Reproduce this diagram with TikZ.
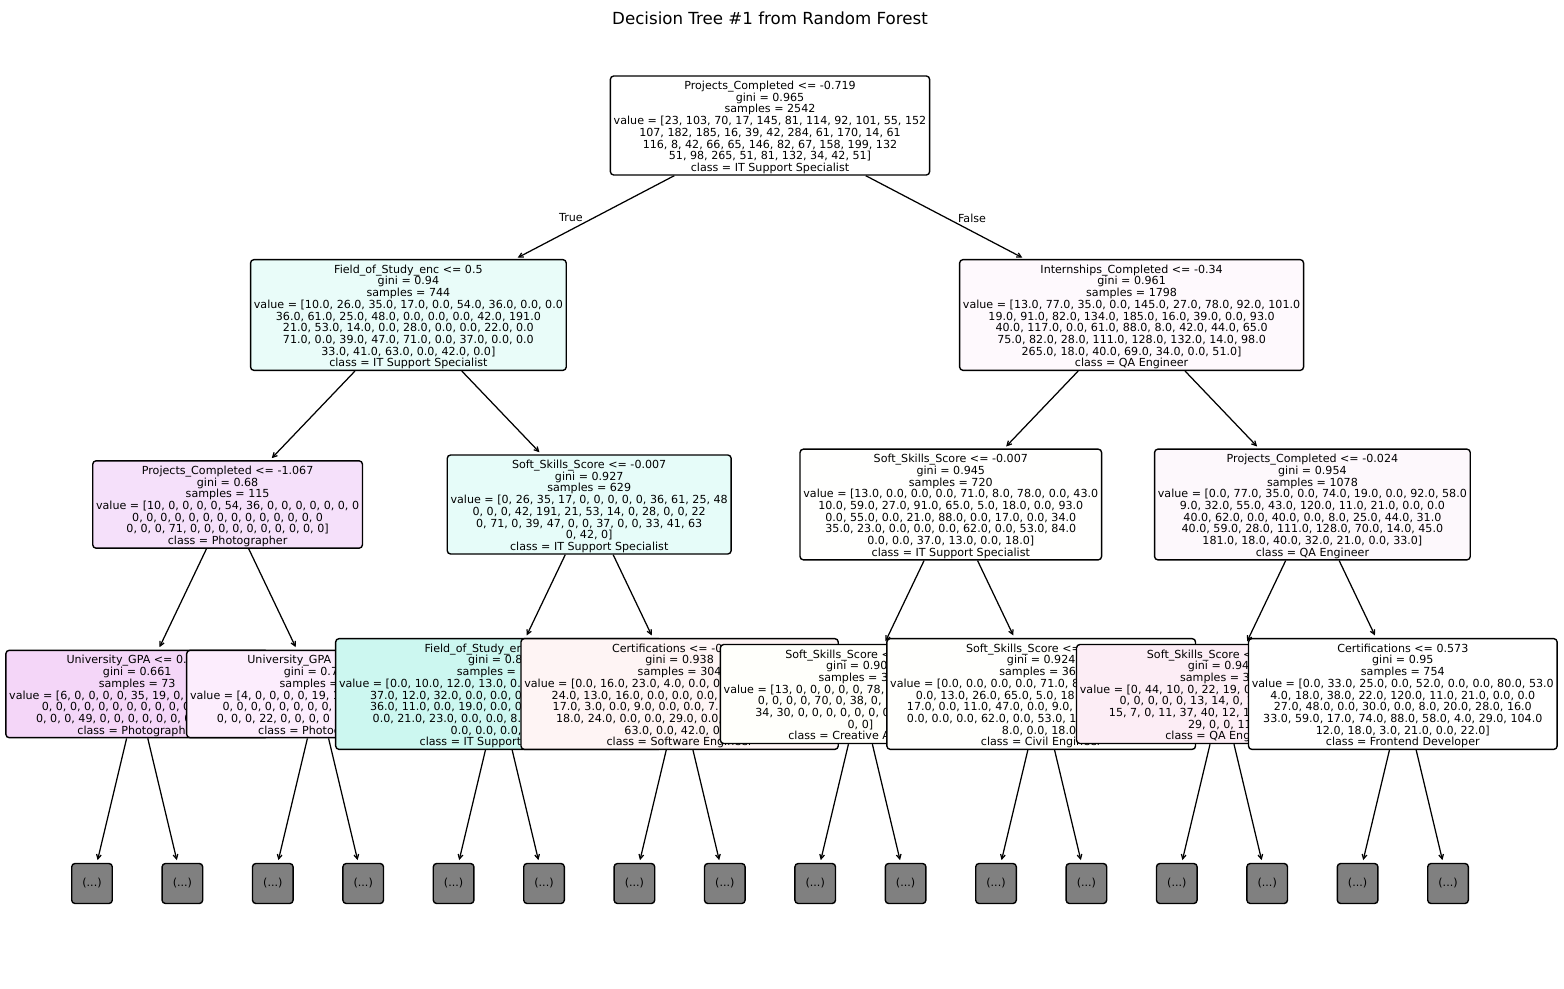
\documentclass[tikz,border=0pt]{standalone}
\usepackage{fontspec}
\setmainfont{DejaVu Sans}
\usetikzlibrary{arrows.meta}
\pgfdeclarelayer{bg}
\pgfdeclarelayer{paper}
\pgfsetlayers{paper,bg,main}
\newlength\pxu \setlength\pxu{0.7227pt}
\newcommand\cutl[2]{\makebox[#1\pxu][l]{#2}}
\newcommand\bs{\rule{0pt}{8.93pt}}
\newcommand\es{\rule[-1.67pt]{0pt}{1.67pt}}
\definecolor{cR}{RGB}{255,255,255}
\definecolor{cIa}{RGB}{233,252,249}
\definecolor{cIb}{RGB}{254,249,253}
\definecolor{cIIa}{RGB}{245,224,250}
\definecolor{cIIb}{RGB}{230,252,249}
\definecolor{cIIc}{RGB}{255,255,254}
\definecolor{cIId}{RGB}{253,248,252}
\definecolor{cA}{RGB}{244,214,248}
\definecolor{cB}{RGB}{252,237,253}
\definecolor{cC}{RGB}{204,247,240}
\definecolor{cD}{RGB}{254,244,244}
\definecolor{cE}{RGB}{255,255,251}
\definecolor{cF}{RGB}{255,255,253}
\definecolor{cG}{RGB}{252,237,245}
\definecolor{cH}{RGB}{255,255,255}
\definecolor{leafgray}{RGB}{128,128,128}
\tikzset{
  tn/.style={draw=black, line width=1pt, rounded corners=2.4pt, inner xsep=2.4pt, inner ysep=0.9pt,
    align=center, font=\fontsize{8.03}{8.45}\selectfont},
  leaf/.style={draw=black, line width=1pt, rounded corners=2.4pt, fill=leafgray, inner sep=0pt,
    minimum width=40.6\pxu, minimum height=40\pxu, font=\fontsize{8.03}{8.45}\selectfont},
  edge/.style={line width=0.9pt, -{Straight Barb[length=3.2pt,width=3.4pt]}, shorten >=2pt},
  lbl/.style={font=\fontsize{8.03}{8.45}\selectfont, inner sep=0pt}
}
\begin{document}
\begin{tikzpicture}[x=0.7227pt, y=-0.7227pt]
\begin{pgfonlayer}{paper}
\path[use as bounding box, fill=white] (0,0) rectangle (1564,989);
\end{pgfonlayer}
\node[font=\fontsize{12.04}{14}\selectfont, anchor=base, inner sep=0pt] (title) at (770,24.5) {Decision Tree \#1 from Random Forest};

% level 4 (lowest)
\foreach \i/\x in {1/92,2/182.4,3/272.8,4/363.2,5/453.6,6/544,7/634.4,8/724.8,9/815.2,10/905.6,11/996,12/1086.4,13/1176.8,14/1267.2,15/1357.6,16/1448}
  \node[leaf] (f\i) at (\x,883.5) {(...)};

% level 3 (in drawing order)
\node[tn, fill=cA] (n31) at (137.2,694) {\bs University\_GPA <= 0.\phantom{000}\\
gini = 0.661\\
samples = 73\\
value = [6, 0, 0, 0, 0, 35, 19, 0,\phantom{ 0, 0, 0, 0, 0, 0}\\
0, 0, 0, 0, 0, 0, 0, 0, 0, 0, 0\phantom{, 0, 0, 0}\\
0, 0, 0, 49, 0, 0, 0, 0, 0, 0, 0\phantom{, 0, 0, 0]}\\
class = Photographer\es};

\node[tn, fill=cB] (n32) at (318,694) {\bs University\_GPA\phantom{ <= 0.000}\\
gini = 0.7\phantom{01}\\
samples =\phantom{ 42}\\
value = [4, 0, 0, 0, 0, 19, 1\phantom{7, 0, 0, 0, 0, 0, 0, 0}\\
0, 0, 0, 0, 0, 0, 0, 0,\phantom{ 0, 0, 0, 0, 0, 0}\\
0, 0, 0, 22, 0, 0, 0, 0\phantom{, 0, 0, 0, 0, 0, 0]}\\
class = Photog\phantom{rapher}\es};

\node[tn, fill=cC] (n33) at (498.8,694) {\bs Field\_of\_Study\_enc\phantom{ <= 0.5}\\
gini = 0.8\phantom{6}\\
samples =\phantom{ 325}\\
value = [0.0, 10.0, 12.0, 13.0, 0.0\phantom{, 0.0, 0.0, 0.0, 0.0, 00.0}\\
\cutl{257.6}{37.0, 12.0, 32.0, 0.0, 0.0, 0.0}\\
\cutl{257.6}{36.0, 11.0, 0.0, 19.0, 0.0, 0.0}\\
\cutl{252.2}{0.0, 21.0, 23.0, 0.0, 0.0, 8.0}\\
0.0, 0.0, 0.0, 0\phantom{.0]}\\
class = IT Support\phantom{ Specialist}\es};

\node[tn, fill=cD] (n34) at (679.6,694) {\bs Certifications <= -0\phantom{.000}\\
gini = 0.938\\
samples = 304\\
\cutl{310.6}{value = [0.0, 16.0, 23.0, 4.0, 0.0, 0}\\
\cutl{255.8}{24.0, 13.0, 16.0, 0.0, 0.0, 0.0,}\\
\cutl{253.8}{17.0, 3.0, 0.0, 9.0, 0.0, 0.0, 7.}\\
\cutl{247.2}{18.0, 24.0, 0.0, 0.0, 29.0, 0.0,}\\
63.0, 0.0, 42.0, 0\phantom{.0]}\\
class = Software Engineer\es};

\node[tn, fill=cE] (n35) at (860.4,694) {\bs Soft\_Skills\_Score <\phantom{= 0.000}\\
gini = 0.90\phantom{0}\\
samples = 3\phantom{00}\\
\cutl{273.4}{value = [13, 0, 0, 0, 0, 0, 78,}\\
0, 0, 0, 0, 70, 0, 38, 0, 1\phantom{0, 41, 0, 8, 0}\\
\cutl{210}{34, 30, 0, 0, 0, 0, 0, 0, 0}\\
0, 0]\\
\cutl{144.2}{class = Creative A}\es};

\node[tn, fill=cF] (n36) at (1041.2,694) {\bs Soft\_Skills\_Score <=\phantom{ 0.000}\\
gini = 0.924\\
samples = 36\phantom{0}\\
\cutl{302}{value = [0.0, 0.0, 0.0, 0.0, 71.0, 8}\\
0.0, 13.0, 26.0, 65.0, 5.0, 18.\phantom{0, 0.0, 23.0, 0.0}\\
17.0, 0.0, 11.0, 47.0, 0.0, 9.0,\phantom{ 0.0, 0.0, 5.0, 23.0}\\
0.0, 0.0, 0.0, 62.0, 0.0, 53.0, 1\phantom{0.0, 0.0, 0.0, 00.0}\\
8.0, 0.0, 18.0]\\
class = Civil Engineer\es};

\node[tn, fill=cG] (n37) at (1222,694) {\bs Soft\_Skills\_Score <\phantom{= 0.000}\\
gini = 0.94\phantom{1}\\
samples = 3\phantom{24}\\
value = [0, 44, 10, 0, 22, 19, 0\phantom{, 12, 5, 5, 14, 17, 21}\\
0, 0, 0, 0, 0, 13, 14, 0, 1\phantom{0, 0, 0, 5, 16}\\
15, 7, 0, 11, 37, 40, 12, 1\phantom{0, 16, 77, 6, 22}\\
29, 0, 0, 11]\\
class = QA Eng\phantom{ineer}\es};

\node[tn, fill=cH] (n38) at (1402.8,694) {\bs Certifications <= 0.573\\
gini = 0.95\\
samples = 754\\
value = [0.0, 33.0, 25.0, 0.0, 52.0, 0.0, 0.0, 80.0, 53.0\\
4.0, 18.0, 38.0, 22.0, 120.0, 11.0, 21.0, 0.0, 0.0\\
27.0, 48.0, 0.0, 30.0, 0.0, 8.0, 20.0, 28.0, 16.0\\
33.0, 59.0, 17.0, 74.0, 88.0, 58.0, 4.0, 29.0, 104.0\\
12.0, 18.0, 3.0, 21.0, 0.0, 22.0]\\
class = Frontend Developer\es};

% level 2
\node[tn, fill=cIIa] (n2a) at (227.6,504.5) {\bs Projects\_Completed <= -1.067\\
gini = 0.68\\
samples = 115\\
value = [10, 0, 0, 0, 0, 54, 36, 0, 0, 0, 0, 0, 0, 0\\
0, 0, 0, 0, 0, 0, 0, 0, 0, 0, 0, 0, 0, 0\\
0, 0, 0, 71, 0, 0, 0, 0, 0, 0, 0, 0, 0, 0]\\
class = Photographer\es};

\node[tn, fill=cIIb] (n2b) at (589.2,504.5) {\bs Soft\_Skills\_Score <= -0.007\\
gini = 0.927\\
samples = 629\\
value = [0, 26, 35, 17, 0, 0, 0, 0, 0, 36, 61, 25, 48\\
0, 0, 0, 42, 191, 21, 53, 14, 0, 28, 0, 0, 22\\
0, 71, 0, 39, 47, 0, 0, 37, 0, 0, 33, 41, 63\\
0, 42, 0]\\
class = IT Support Specialist\es};

\node[tn, fill=cIIc] (n2c) at (950.8,504.5) {\bs Soft\_Skills\_Score <= -0.007\\
gini = 0.945\\
samples = 720\\
value = [13.0, 0.0, 0.0, 0.0, 71.0, 8.0, 78.0, 0.0, 43.0\\
10.0, 59.0, 27.0, 91.0, 65.0, 5.0, 18.0, 0.0, 93.0\\
0.0, 55.0, 0.0, 21.0, 88.0, 0.0, 17.0, 0.0, 34.0\\
35.0, 23.0, 0.0, 0.0, 0.0, 62.0, 0.0, 53.0, 84.0\\
0.0, 0.0, 37.0, 13.0, 0.0, 18.0]\\
class = IT Support Specialist\es};

\node[tn, fill=cIId] (n2d) at (1312.4,504.5) {\bs Projects\_Completed <= -0.024\\
gini = 0.954\\
samples = 1078\\
value = [0.0, 77.0, 35.0, 0.0, 74.0, 19.0, 0.0, 92.0, 58.0\\
9.0, 32.0, 55.0, 43.0, 120.0, 11.0, 21.0, 0.0, 0.0\\
40.0, 62.0, 0.0, 40.0, 0.0, 8.0, 25.0, 44.0, 31.0\\
40.0, 59.0, 28.0, 111.0, 128.0, 70.0, 14.0, 45.0\\
181.0, 18.0, 40.0, 32.0, 21.0, 0.0, 33.0]\\
class = QA Engineer\es};

% level 1
\node[tn, fill=cIa] (n1a) at (408.4,315) {\bs Field\_of\_Study\_enc <= 0.5\\
gini = 0.94\\
samples = 744\\
value = [10.0, 26.0, 35.0, 17.0, 0.0, 54.0, 36.0, 0.0, 0.0\\
36.0, 61.0, 25.0, 48.0, 0.0, 0.0, 0.0, 42.0, 191.0\\
21.0, 53.0, 14.0, 0.0, 28.0, 0.0, 0.0, 22.0, 0.0\\
71.0, 0.0, 39.0, 47.0, 71.0, 0.0, 37.0, 0.0, 0.0\\
33.0, 41.0, 63.0, 0.0, 42.0, 0.0]\\
class = IT Support Specialist\es};

\node[tn, fill=cIb] (n1b) at (1131.6,315) {\bs Internships\_Completed <= -0.34\\
gini = 0.961\\
samples = 1798\\
value = [13.0, 77.0, 35.0, 0.0, 145.0, 27.0, 78.0, 92.0, 101.0\\
19.0, 91.0, 82.0, 134.0, 185.0, 16.0, 39.0, 0.0, 93.0\\
40.0, 117.0, 0.0, 61.0, 88.0, 8.0, 42.0, 44.0, 65.0\\
75.0, 82.0, 28.0, 111.0, 128.0, 132.0, 14.0, 98.0\\
265.0, 18.0, 40.0, 69.0, 34.0, 0.0, 51.0]\\
class = QA Engineer\es};

% root
\node[tn, fill=cR] (root) at (770,125.5) {\bs Projects\_Completed <= -0.719\\
gini = 0.965\\
samples = 2542\\
value = [23, 103, 70, 17, 145, 81, 114, 92, 101, 55, 152\\
107, 182, 185, 16, 39, 42, 284, 61, 170, 14, 61\\
116, 8, 42, 66, 65, 146, 82, 67, 158, 199, 132\\
51, 98, 265, 51, 81, 132, 34, 42, 51]\\
class = IT Support Specialist\es};

\node[lbl] (ltrue) at (571,218) {True};
\node[lbl] (lfalse) at (972,218) {False};

\begin{pgfonlayer}{bg}
\draw[edge] (root) -- (n1a);
\draw[edge] (root) -- (n1b);
\draw[edge] (n1a) -- (n2a);
\draw[edge] (n1a) -- (n2b);
\draw[edge] (n1b) -- (n2c);
\draw[edge] (n1b) -- (n2d);
\draw[edge] (n2a) -- (n31);
\draw[edge] (n2a) -- (n32);
\draw[edge] (n2b) -- (n33);
\draw[edge] (n2b) -- (n34);
\draw[edge] (n2c) -- (n35);
\draw[edge] (n2c) -- (n36);
\draw[edge] (n2d) -- (n37);
\draw[edge] (n2d) -- (n38);
\draw[edge] (n31) -- (f1);
\draw[edge] (n31) -- (f2);
\draw[edge] (n32) -- (f3);
\draw[edge] (n32) -- (f4);
\draw[edge] (n33) -- (f5);
\draw[edge] (n33) -- (f6);
\draw[edge] (n34) -- (f7);
\draw[edge] (n34) -- (f8);
\draw[edge] (n35) -- (f9);
\draw[edge] (n35) -- (f10);
\draw[edge] (n36) -- (f11);
\draw[edge] (n36) -- (f12);
\draw[edge] (n37) -- (f13);
\draw[edge] (n37) -- (f14);
\draw[edge] (n38) -- (f15);
\draw[edge] (n38) -- (f16);
\end{pgfonlayer}
\end{tikzpicture}
\end{document}
